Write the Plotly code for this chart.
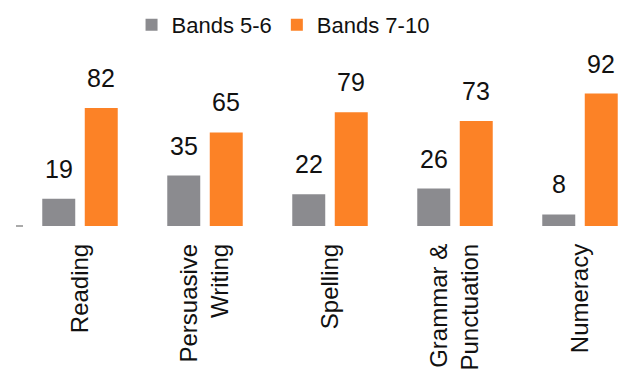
import plotly.graph_objects as go

categories = ["Reading", "Persuasive<br>Writing", "Spelling", "Grammar &<br>Punctuation", "Numeracy"]
bands_5_6 = [19, 35, 22, 26, 8]
bands_7_10 = [82, 65, 79, 73, 92]
series_names = ["Bands 5-6", "Bands 7-10"]
colors = ["#8b8b8f", "#fc8226"]

W, H = 618, 376
ML, MR, MT, MB = 24, 0, 60, 150
px_per_cat = 125.0
first_center = 80.0

fig = go.Figure()
for name, vals, col in zip(series_names, [bands_5_6, bands_7_10], colors):
    fig.add_trace(go.Bar(x=categories, y=vals, name=name, marker=dict(color=col, line=dict(width=0))))

# value labels
offset = 21.25
for vals, sh in [(bands_5_6, -offset), (bands_7_10, offset)]:
    for c, v in zip(categories, vals):
        fig.add_annotation(x=c, y=v, xref="x", yref="y", text=str(v), showarrow=False,
                           xshift=sh, yshift=14, yanchor="bottom",
                           font=dict(family="Liberation Sans, Arial", size=25, color="#111111"))

x0 = (ML - first_center) / px_per_cat
x1 = (W - MR - first_center) / px_per_cat
plot_h = H - MT - MB
ymax = plot_h / 1.44

fig.update_layout(
    width=W, height=H,
    margin=dict(l=ML, r=MR, t=MT, b=MB, pad=0, autoexpand=False),
    paper_bgcolor="white", plot_bgcolor="white",
    barmode="group", bargap=0.32, bargroupgap=0.224,
    showlegend=True,
    legend=dict(orientation="h", xref="container", yref="container", x=0.458, y=1 - 25 / H,
                xanchor="center", yanchor="middle",
                font=dict(family="Liberation Sans Narrow, Arial Narrow, Liberation Sans", size=22, color="#111111"),
                itemsizing="constant"),
    xaxis=dict(range=[x0, x1], showline=False, showgrid=False, zeroline=False, ticks="",
               automargin=False, ticklabelstandoff=12,
               tickangle=-90, tickfont=dict(family="Liberation Sans, Arial", size=24, color="#111111")),
    yaxis=dict(range=[0, ymax], showline=False, showgrid=False, zeroline=False, automargin=False,
               ticks="outside", tickvals=[0], ticklen=7, tickcolor="#aaaaaa", tickwidth=2,
               showticklabels=False),
)

fig.write_html("out.html", config={"displayModeBar": False},
               post_script="document.body.style.margin='0';document.body.style.overflow='hidden';")
